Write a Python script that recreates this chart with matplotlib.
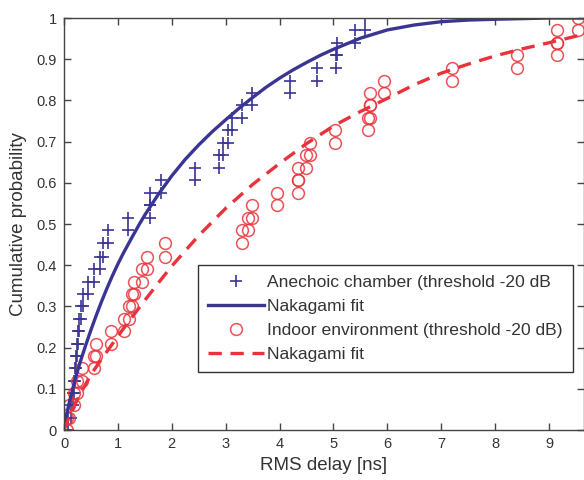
import matplotlib
matplotlib.use("Agg")
import matplotlib.pyplot as plt

plt.rcParams['font.family'] = ['Liberation Sans', 'DejaVu Sans']

levels = [0.0, 0.03, 0.06, 0.09, 0.12, 0.15, 0.18, 0.21, 0.24, 0.27, 0.30,
          0.33, 0.36, 0.39, 0.42, 0.455, 0.485, 0.515, 0.545, 0.576, 0.606,
          0.636, 0.667, 0.697, 0.727, 0.758, 0.788, 0.818, 0.848, 0.879,
          0.909, 0.939, 0.970, 1.0]

# sorted RMS delay samples [ns]
anechoic_delay = [0.08, 0.13, 0.16, 0.18, 0.20, 0.22, 0.24, 0.26, 0.28, 0.31,
                  0.36, 0.44, 0.56, 0.67, 0.73, 0.82, 1.19, 1.60, 1.60, 1.80,
                  2.43, 2.87, 2.95, 3.05, 3.11, 3.30, 3.49, 4.19, 4.70, 5.05,
                  5.07, 5.40, 5.58]
indoor_delay = [0.05, 0.10, 0.18, 0.25, 0.33, 0.55, 0.60, 0.88, 1.12, 1.20,
                1.27, 1.30, 1.44, 1.54, 1.87, 3.30, 3.42, 3.49, 3.95, 4.34,
                4.34, 4.50, 4.56, 5.03, 5.65, 5.68, 5.68, 5.93, 7.20, 8.40,
                9.15, 9.15, 9.54]

# Nakagami fit curves
fit_a_x = [0, 0.05, 0.1, 0.2, 0.3, 0.4, 0.5, 0.6, 0.7, 0.8, 0.9, 1.0, 1.1,
           1.25, 1.4, 1.5, 1.75, 2.0, 2.25, 2.5, 2.75, 3.0, 3.25, 3.5, 3.75,
           4.0, 4.25, 4.5, 4.75, 5.0, 5.5, 6.0, 6.5, 7.0, 7.5, 8.0, 9.0, 9.7]
fit_a_y = [0, 0.038, 0.068, 0.12, 0.165, 0.205, 0.243, 0.279, 0.313, 0.345,
           0.375, 0.403, 0.429, 0.465, 0.5, 0.522, 0.572, 0.617, 0.657, 0.692,
           0.724, 0.753, 0.781, 0.807, 0.832, 0.854, 0.874, 0.892, 0.909,
           0.924, 0.951, 0.971, 0.983, 0.991, 0.995, 0.997, 1.0, 1.0]
fit_i_x = [0, 0.1, 0.25, 0.5, 0.75, 1.0, 1.25, 1.5, 1.75, 2.0, 2.5, 3.0, 3.5,
           4.0, 4.5, 5.0, 5.5, 6.0, 6.5, 7.0, 7.5, 8.0, 8.5, 9.0, 9.7]
fit_i_y = [0, 0.033, 0.075, 0.135, 0.182, 0.228, 0.272, 0.315, 0.357, 0.398,
           0.472, 0.538, 0.596, 0.647, 0.695, 0.738, 0.773, 0.805, 0.838,
           0.866, 0.888, 0.908, 0.925, 0.94, 0.962]

x_ticks = [0, 1, 2, 3, 4, 5, 6, 7, 8, 9]
y_ticks = [0, 0.1, 0.2, 0.3, 0.4, 0.5, 0.6, 0.7, 0.8, 0.9, 1]
y_tick_labels = ['0', '0.1', '0.2', '0.3', '0.4', '0.5', '0.6', '0.7', '0.8', '0.9', '1']

blue = '#3a3593'
red = '#e8333b'

fig = plt.figure(figsize=(5.84, 4.8), dpi=100)
ax = fig.add_axes([0.1096, 0.104, 0.8904, 0.8585])

# each sample gives two points: before and after the CDF step
lo = levels[:-1]
hi = levels[1:]
ax.plot(anechoic_delay + anechoic_delay, lo + hi, linestyle='none', marker='+',
        markersize=9, markeredgewidth=1.2, color=blue,
        label='Anechoic chamber (threshold -20 dB')
ax.plot([], [], color=blue, linewidth=2.4, label='Nakagami fit')
ax.plot(indoor_delay + indoor_delay, lo + hi, linestyle='none', marker='o',
        markersize=8.5, markerfacecolor='none', markeredgewidth=1.1,
        markeredgecolor=red, alpha=0.85,
        label='Indoor environment (threshold -20 dB)')
ax.plot([], [], color=red, linewidth=2.4, linestyle=(0, (4, 2.6)), label='Nakagami fit')

ax.plot(fit_a_x, fit_a_y, color=blue, linewidth=2.4)
ax.plot(fit_i_x, fit_i_y, color=red, linewidth=2.4, linestyle=(0, (4, 2.6)))

ax.set_xlim(0, 9.65)
ax.set_ylim(0, 1)
ax.set_xticks(x_ticks)
ax.set_yticks(y_ticks)
ax.set_yticklabels(y_tick_labels)
ax.tick_params(direction='in', length=5, width=1, top=True, right=True,
               labelsize=10.5, colors='#444444', labelcolor='#333333', pad=5)
for s in ax.spines.values():
    s.set_color('#444444')
    s.set_linewidth(1)

ax.set_xlabel('RMS delay [ns]', fontsize=13.5, color='#333333', labelpad=4)
ax.set_ylabel('Cumulative probability', fontsize=13.5, color='#333333', labelpad=7)

leg = ax.legend(loc='upper left', bbox_to_anchor=(0.258, 0.40), fontsize=12.6,
                frameon=True, fancybox=False, framealpha=1, edgecolor='#333333',
                handlelength=3.2, handletextpad=0.2, labelspacing=0.5,
                borderpad=0.55, borderaxespad=0)
leg.get_frame().set_linewidth(1)
for t in leg.get_texts():
    t.set_color('#333333')

fig.savefig('out.png', dpi=100)
